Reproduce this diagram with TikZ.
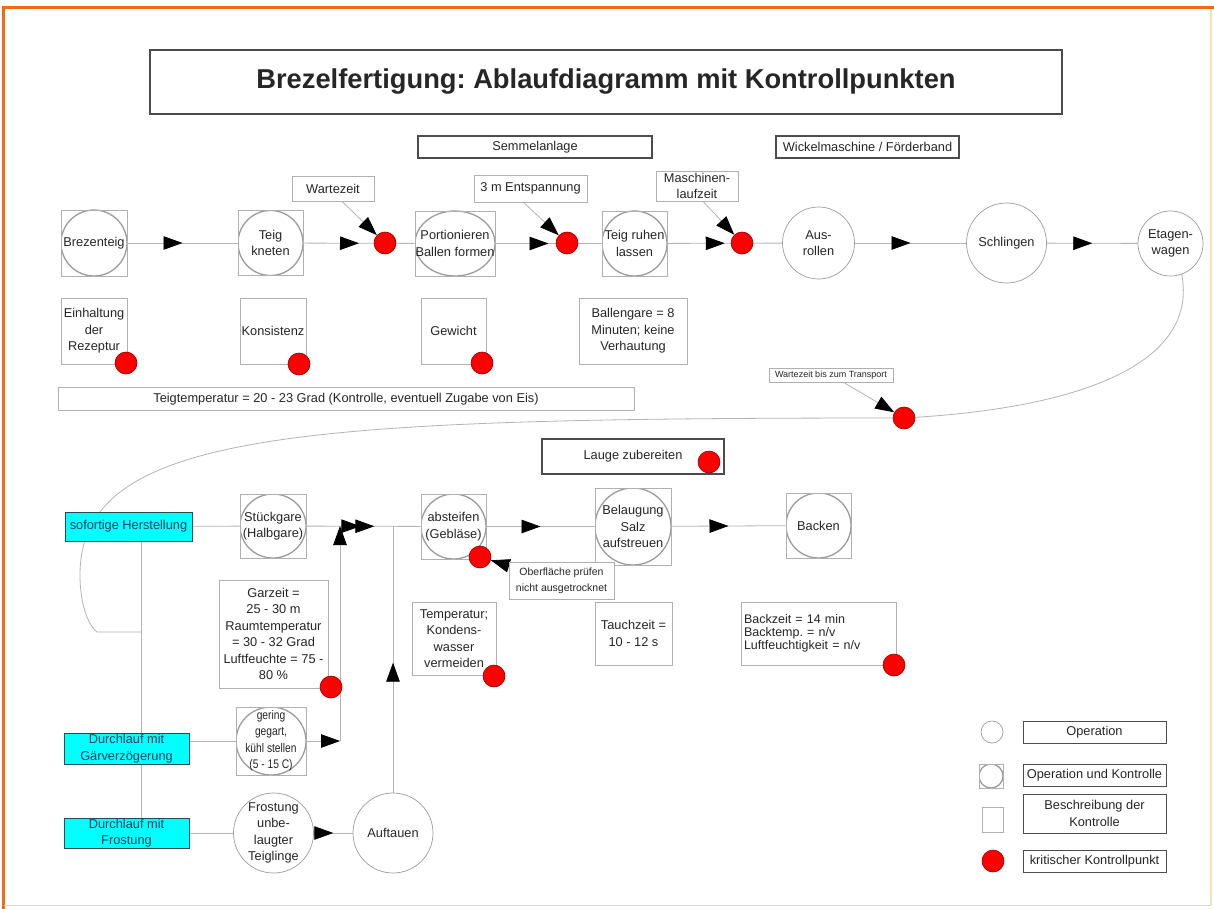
\documentclass[tikz,border=0pt]{standalone}
\usepackage{fontspec}
\setmainfont{Liberation Sans}
\newfontfamily\schmalfont[FakeStretch=0.82]{Liberation Sans}
\usetikzlibrary{arrows.meta,calc,decorations.markings,positioning}
\definecolor{kkprot}{HTML}{FF0000}
\definecolor{kkprand}{HTML}{8C0000}
\definecolor{opgrau}{HTML}{9C9C9C}
\definecolor{liniengrau}{HTML}{B4B4B4}
\definecolor{tuerkis}{HTML}{00FFFF}
\definecolor{tuerkisrand}{HTML}{1F4F55}
\definecolor{tuerkistext}{HTML}{0B3D5C}
\definecolor{rahmen}{HTML}{F26B12}
\definecolor{rahmenhell}{HTML}{F9DDB8}
\pgfdeclarelayer{hinten}
\pgfsetlayers{hinten,main}
\frenchspacing

\begin{document}
\begin{tikzpicture}[x=1pt,y=-1pt,
    every node/.style={font=\fontsize{12.8}{16.5}\selectfont, inner sep=0pt, align=center, text=black!85},
    >={Triangle[length=19pt,width=13.5pt,color=black]},
    gr/.style 2 args={minimum width=#1pt, minimum height=#2pt},
    flow/.style={draw=liniengrau, line width=0.8pt},
    pfeil/.style={postaction={decorate,decoration={markings,mark=at position #1 with {\arrow{>}}}}},
    op/.style={circle, draw=opgrau, line width=0.7pt, fill=white, minimum size=#1pt},
    beschr/.style={rectangle, draw=opgrau!80, line width=0.7pt, fill=white},
    opkon/.style={beschr, path picture={\draw[opgrau, line width=1.3pt] let \p1=($(path picture bounding box.north east)-(path picture bounding box.center)$) in (path picture bounding box.center) ellipse ({\x1} and {\y1});}},
    kopf/.style={rectangle, draw=black!70, line width=1.2pt, fill=white},
    kkp/.style={circle, fill=kkprot, draw=kkprand, line width=0.6pt, minimum size=22pt},
    start/.style={rectangle, fill=tuerkis, draw=tuerkisrand, line width=1pt, text=tuerkistext},
    hinweis/.style={flow, ->},
  ]
\useasboundingbox (0,0) rectangle (1214,909);

\node[kopf, gr={912}{64}, font=\fontsize{27.3}{32}\bfseries] (titel) at (606,82) {Brezelfertigung: Ablaufdiagramm mit Kontrollpunkten};
\node[kopf, gr={234}{22}] (semmel) at (535,147) {Semmelanlage};
\node[kopf, gr={183}{22}] (wickel) at (867.5,147) {Wickelmaschine / Förderband};

% Teig bis Etagenwagen
\node[opkon, gr={66}{66}] (brez) at (94,243) {Brezenteig};
\node[opkon, gr={65}{65}] (kneten) at (270.5,243) {Teig\\kneten};
\node[opkon, gr={80}{65}] (portion) at (455,243.5) {Portionieren\\Ballen formen};
\node[opkon, gr={65}{65}] (ruhen) at (634.5,243.5) {Teig ruhen\\lassen};
\node[op=72] (ausrollen) at (818.5,243) {Aus-\\rollen};
\node[op=80] (schlingen) at (1006.5,243) {Schlingen};
\node[op=65] (etagen) at (1170.5,243.5) {Etagen-\\wagen};

\node[beschr, gr={82}{25}] (warte) at (333,188.5) {Wartezeit};
\node[beschr, gr={113}{27}] (entsp) at (530.5,188.5) {3 m Entspannung};
\node[beschr, gr={82}{30}] (laufz) at (697,186) {Maschinen-\\laufzeit};

\node[beschr, gr={66}{66}] (rezept) at (94,331) {Einhaltung\\der\\Rezeptur};
\node[beschr, gr={66}{66}] (konsist) at (273,331) {Konsistenz};
\node[beschr, gr={65}{66}] (gewicht) at (453.5,331) {Gewicht};
\node[beschr, gr={108}{66}] (ballgare) at (633,331) {Ballengare = 8\\Minuten; keine\\Verhautung};
\node[beschr, gr={576}{23}] (teigtemp) at (346,399) {Teigtemperatur = 20 - 23 Grad (Kontrolle, eventuell Zugabe von Eis)};
\node[beschr, gr={124}{14}, font=\fontsize{9}{10}\selectfont] (transp) at (831,375) {Wartezeit bis zum Transport};

% Herstellung
\node[kopf, gr={182}{35}] (lauge) at (633,456.5) {Lauge zubereiten};
\node[start, gr={127}{29}] (sofort) at (128.5,526.5) {sofortige Herstellung};
\node[opkon, gr={66}{64}] (stueck) at (273,526) {Stückgare\\(Halbgare)};
\node[opkon, gr={65}{65}] (absteif) at (453.5,526.5) {absteifen\\(Gebläse)};
\node[opkon, gr={76}{77}] (belaug) at (633,526.5) {Belaugung\\Salz\\aufstreuen};
\node[opkon, gr={65}{65}] (backen) at (818.5,525.5) {Backen};

\node[beschr, gr={105}{37}, font=\fontsize{10.5}{16}\selectfont] (oberfl) at (561.5,580.5) {Oberfläche prüfen\\nicht ausgetrocknet};
\node[beschr, gr={109}{108}] (garzeit) at (273.5,634) {Garzeit =\\25 - 30 m\\Raumtemperatur\\= 30 - 32 Grad\\Luftfeuchte = 75 -\\80 \%};
\node[beschr, gr={84}{73}] (kondens) at (454,638.5) {Temperatur;\\Kondens-\\wasser\\vermeiden};
\node[beschr, gr={77}{63}] (tauch) at (633.5,633.5) {Tauchzeit =\\10 - 12 s};
\node[beschr, gr={155}{63}, align=left, text width=149pt, inner xsep=3pt, font=\fontsize{12.5}{12.8}\selectfont] (backzeit) at (818.5,633.5) {Backzeit = 14 min\\Backtemp. = n/v\\Luftfeuchtigkeit = n/v};

\node[start, gr={125}{31}] (gaerv) at (126.5,748.5) {Durchlauf mit\\Gärverzögerung};
\node[opkon, gr={70}{68}, font=\schmalfont\fontsize{12.5}{16.5}\selectfont] (gering) at (271,741) {gering\\gegart,\\kühl stellen\\(5 - 15 C)};
\node[start, gr={125}{30}] (frostlauf) at (126.5,833) {Durchlauf mit\\Frostung};
\node[op=80] (frostung) at (273.5,833) {Frostung\\unbe-\\laugter\\Teiglinge};
\node[op=80] (auftauen) at (393,833) {Auftauen};

\coordinate (links) at (141,632);
\coordinate (knick) at (340,526);
\coordinate (aufoben) at (393,526);

% kritische Kontrollpunkte
\node[kkp] (k1) at (385,243) {};
\node[kkp] (k2) at (567,243) {};
\node[kkp] (k3) at (742,243) {};
\node[kkp] (k4) at (904,418) {};
\node[kkp] (k5) at (126,363) {};
\node[kkp] (k6) at (299,364) {};
\node[kkp] (k7) at (482,363) {};
\node[kkp] (k8) at (709,462) {};
\node[kkp] (k9) at (480,557) {};
\node[kkp] (k10) at (494,676) {};
\node[kkp] (k11) at (894,665) {};
\node[kkp] (k12) at (331,687) {};

% Legende
\node[op=22] (lgop) at (992,732) {};
\node[opkon, gr={24}{24}] (lgopkon) at (991,776) {};
\node[beschr, gr={21}{25}] (lgbeschr) at (992.5,819.5) {};
\node[kkp] (lgkkp) at (993,861) {};
\node[kopf, gr={143}{22}, line width=1pt] (lt1) at (1094.5,732) {Operation};
\node[kopf, gr={143}{22}, line width=1pt] (lt2) at (1094.5,775) {Operation und Kontrolle};
\node[kopf, gr={143}{39}, line width=1pt] (lt3) at (1094.5,813.5) {Beschreibung der\\Kontrolle};
\node[kopf, gr={143}{22}, line width=1pt] (lt4) at (1094.5,861) {kritischer Kontrollpunkt};

\begin{pgfonlayer}{hinten}
\fill[white] (0,0) rectangle (1214,909);
\draw[rahmen, line width=3pt] (3,909) -- (3,8) -- (1214,8);
\draw[rahmenhell, line width=1.5pt] (1211,9) -- (1211,905);
\draw[black!15, line width=1pt] (4,905) -- (1211,905);
\draw[flow, pfeil=0.5] (brez) -- (kneten);
\draw[flow, pfeil=0.5] (kneten) -- (portion);
\draw[flow, pfeil=0.5] (portion) -- (ruhen);
\draw[flow, pfeil=0.5] (ruhen) -- (ausrollen);
\draw[flow, pfeil=0.5] (ausrollen) -- (schlingen);
\draw[flow, pfeil=0.5] (schlingen) -- (etagen);
\draw[hinweis] ([xshift=9pt]warte.south) -- (k1);
\draw[hinweis] ([xshift=-7pt]entsp.south) -- (k2);
\draw[hinweis] ([xshift=6pt]laufz.south) -- (k3);
\draw[hinweis] (transp) -- (k4);
\draw[hinweis] ([yshift=-4pt]oberfl.north west) -- (k9);
\draw[flow] (etagen.-70) .. controls (1198,360) and (1090,408) .. (k4.center)
  .. controls (300,418) and (80,430) .. (80,575)
  .. controls (80,608) and (90,627) .. (97,632) -- (links);
\draw[flow] (sofort.south -| links) -- (frostlauf.north -| links);
\draw[flow] (sofort) -- (stueck);
\draw[flow, pfeil=54pt, pfeil=68pt] (stueck) -- (absteif);
\draw[flow, pfeil=0.5] (absteif) -- (belaug);
\draw[flow, pfeil=0.5] (belaug) -- (backen);
\draw[flow] (gaerv.east |- gering) -- (gering);
\draw[flow, ->] (gering) -- (gering -| knick);
\draw[flow, ->] (gering -| knick) -- (knick);
\draw[flow] (frostlauf) -- (frostung);
\draw[flow, pfeil=0.5] (frostung) -- (auftauen);
\draw[flow, pfeil=130pt] (auftauen.north) -- (aufoben);
\end{pgfonlayer}
\end{tikzpicture}
\end{document}
